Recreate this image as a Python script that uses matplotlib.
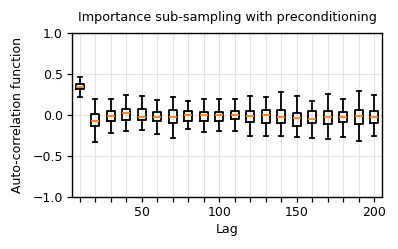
import matplotlib
matplotlib.use('Agg')
from matplotlib import pyplot as plt
import matplotlib.ticker as ticker

# lag positions and box statistics
lags = [10, 20, 30, 40, 50, 60, 70, 80, 90, 100,
        110, 120, 130, 140, 150, 160, 170, 180, 190, 200]
whislo = [0.226, -0.323, -0.218, -0.194, -0.177, -0.226, -0.282, -0.169, -0.202, -0.194,
          -0.194, -0.258, -0.258, -0.258, -0.270, -0.274, -0.286, -0.270, -0.310, -0.254]
q1 = [0.315, -0.129, -0.073, -0.056, -0.056, -0.073, -0.097, -0.065, -0.065, -0.065,
      -0.048, -0.081, -0.089, -0.089, -0.125, -0.089, -0.101, -0.081, -0.101, -0.093]
med = [0.347, -0.065, -0.012, 0.024, -0.016, -0.024, -0.016, 0.000, 0.008, 0.000,
       0.008, -0.004, 0.000, -0.024, -0.036, -0.040, -0.024, -0.020, -0.012, -0.020]
q3 = [0.387, 0.016, 0.048, 0.077, 0.077, 0.040, 0.065, 0.048, 0.044, 0.044,
      0.056, 0.048, 0.069, 0.060, 0.028, 0.052, 0.056, 0.044, 0.065, 0.048]
whishi = [0.468, 0.194, 0.194, 0.246, 0.238, 0.185, 0.218, 0.177, 0.194, 0.194,
          0.194, 0.234, 0.218, 0.282, 0.238, 0.177, 0.254, 0.194, 0.302, 0.242]

stats = []
for i in range(len(lags)):
    stats.append({'whislo': whislo[i], 'q1': q1[i], 'med': med[i],
                  'q3': q3[i], 'whishi': whishi[i], 'fliers': []})

plt.rcParams['font.size'] = 9
fig, ax = plt.subplots(figsize=(3.98, 2.49), dpi=100)
fig.subplots_adjust(left=0.181, right=0.960, top=0.866, bottom=0.208)

lw = 1.3
ax.bxp(stats, positions=lags, widths=5, manage_ticks=False,
       boxprops={'linewidth': lw, 'color': 'black'},
       whiskerprops={'linewidth': lw, 'color': 'black'},
       capprops={'linewidth': lw, 'color': 'black'},
       medianprops={'linewidth': lw, 'color': '#ff7f0e'},
       zorder=3)

ax.set_xlim(5, 205)
ax.set_ylim(-1, 1)
ax.xaxis.set_major_locator(ticker.FixedLocator([50, 100, 150, 200]))
ax.xaxis.set_minor_locator(ticker.FixedLocator([x for x in lags if x % 50 != 0]))
ax.yaxis.set_major_locator(ticker.MultipleLocator(0.5))
ax.tick_params(which='both', length=3.5, width=0.9, pad=3)
ax.grid(True, which='both', axis='x', color='#e3e3e3', linewidth=0.8)
ax.grid(True, which='major', axis='y', color='#e3e3e3', linewidth=0.8)
ax.set_axisbelow(True)
for s in ax.spines.values():
    s.set_linewidth(1.0)

ax.set_title('Importance sub-sampling with preconditioning', fontsize=9.2, pad=9)
ax.set_xlabel('Lag', labelpad=3)
ax.set_ylabel('Auto-correlation function', labelpad=6)

plt.savefig('out.png', dpi=100)
